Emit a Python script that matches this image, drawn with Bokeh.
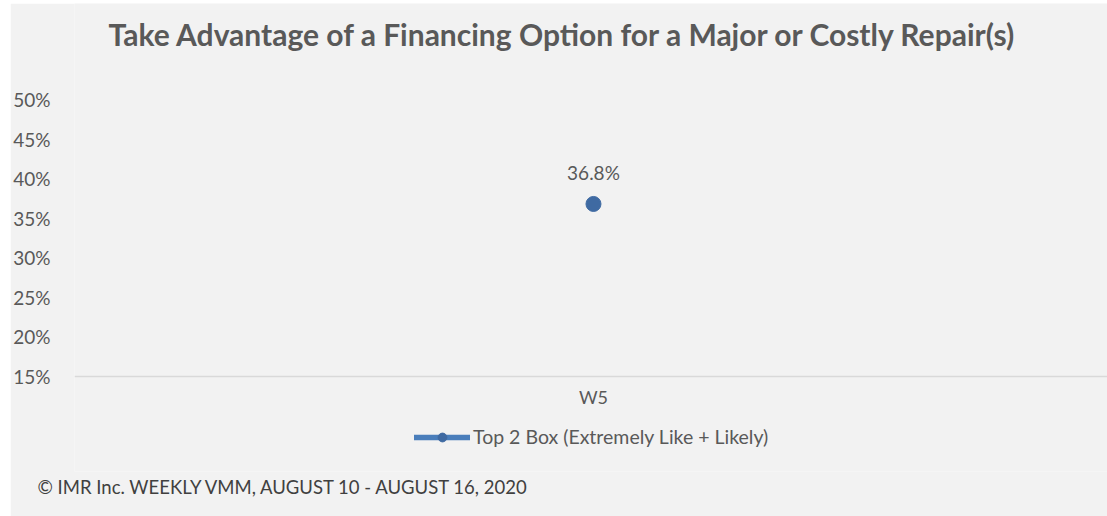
from bokeh.plotting import figure
from bokeh.models import Range1d, FixedTicker, Legend, LegendItem, ColumnDataSource, Label, Title, Span
from bokeh.core.properties import value
from bokeh.embed import file_html
from bokeh.resources import INLINE

title_text = "Take Advantage of a Financing Option for a Major or Costly Repair(s)"
categories = ["W5"]
values = [36.8]
value_labels = ["36.8%"]
series_name = "Top 2 Box (Extremely Like + Likely)"
y_ticks = [15, 20, 25, 30, 35, 40, 45, 50]
footer_text = "\u00a9 IMR Inc. WEEKLY VMM, AUGUST 10 - AUGUST 16, 2020"

FONT = "Lato"
GREY = "#595959"
BG = "#f2f2f2"
LINE_C = "#4a7ebb"
DOT_C = "#3f6aa2"

# layout constants (pixels)
W, H = 1097, 513
FL, FR = 62, 0          # frame borders left / right
FB = 45                 # footer panel below frame
FH = H - FB             # frame height
Y_TOP_PX, Y_BOT_PX = 96, 373   # pixel rows (from frame top) of 50% and 15%
px_per = (Y_BOT_PX - Y_TOP_PX) / (y_ticks[-1] - y_ticks[0])
y_hi = y_ticks[-1] + Y_TOP_PX / px_per
y_lo = y_ticks[0] - (FH - Y_BOT_PX) / px_per

xs = list(range(len(categories)))
src = ColumnDataSource(dict(x=xs, y=values, lab=value_labels))
cat_src = ColumnDataSource(dict(x=xs, y=[y_ticks[0]] * len(xs), c=categories))

p = figure(width=W, height=H, output_backend="svg", toolbar_location=None,
           x_range=Range1d(-0.5024, 0.4976), y_range=Range1d(y_lo, y_hi),
           x_axis_location=None,
           min_border_left=FL, min_border_right=FR, min_border_top=0, min_border_bottom=FB,
           background_fill_color=BG, border_fill_color=BG, outline_line_color=None)
p.margin = (3, 0, 0, 10)
p.xgrid.grid_line_color = None
p.ygrid.grid_line_color = None

p.yaxis.ticker = FixedTicker(ticks=y_ticks)
p.yaxis.major_label_overrides = {t: f"{t}%" for t in y_ticks}
p.yaxis.axis_line_color = None
p.yaxis.major_tick_line_color = None
p.yaxis.minor_tick_line_color = None
p.yaxis.major_label_text_font = FONT
p.yaxis.major_label_text_font_size = "19px"
p.yaxis.major_label_text_color = GREY
p.yaxis.major_label_standoff = 18

# category axis line and label
p.add_layout(Span(location=y_ticks[0], dimension="width", line_color="#d9d9d9", line_width=1.5))
p.text("x", "y", text="c", source=cat_src, text_font=value(FONT), text_font_size="18px",
       text_color=GREY, text_align="center", text_baseline="middle", y_offset=20)

ln = p.line("x", "y", source=src, line_color=LINE_C, line_width=5.5, line_cap="round")
sc = p.scatter("x", "y", source=src, size=15, fill_color=DOT_C, line_color=DOT_C)
p.text("x", "y", text="lab", source=src, text_font=value(FONT), text_font_size="19px",
       text_color=GREY, text_align="center", text_baseline="middle", y_offset=-31)

legend = Legend(items=[LegendItem(label=series_name, renderers=[ln, sc])],
                location=(340, FH - 445), orientation="horizontal",
                label_text_font=FONT, label_text_font_size="19.5px", label_text_color=GREY,
                glyph_width=56, glyph_height=22, label_height=20, label_standoff=3,
                padding=0, margin=0, spacing=0,
                background_fill_alpha=0, border_line_color=None)
p.add_layout(legend, "center")

p.add_layout(Label(x=561 - 72, y=FH - 30, x_units="screen", y_units="screen", text=title_text,
                   text_font=FONT, text_font_size="30px", text_font_style="bold",
                   text_color=GREY, text_align="center", text_baseline="middle"))

p.add_layout(Title(text=footer_text, align="left", offset=-37, text_font=FONT,
                   text_font_size="18.5px", text_font_style="normal", text_color="#404040",
                   standoff=4), "below")

open("out.html", "w").write(file_html(p, INLINE))
